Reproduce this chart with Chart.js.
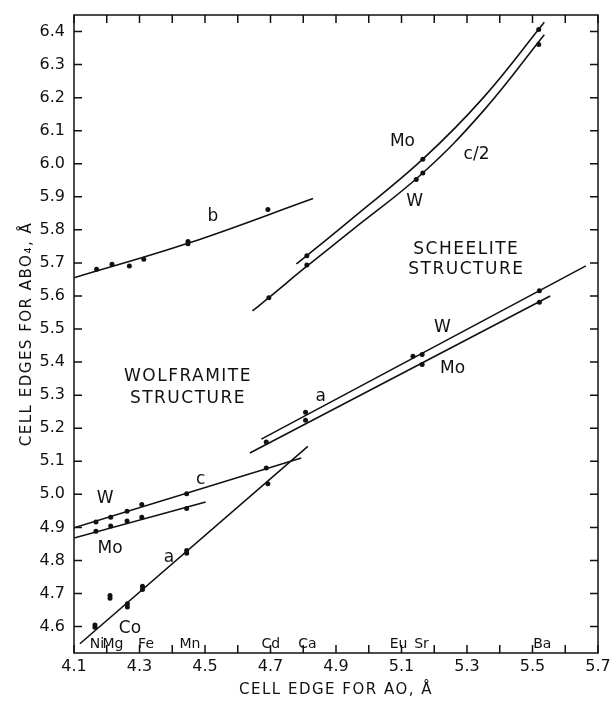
<!DOCTYPE html>
<html>
<head>
<meta charset="utf-8">
<script src="https://cdn.jsdelivr.net/npm/chart.js@4.4.0/dist/chart.umd.min.js"></script>
<style>
  html, body { margin: 0; padding: 0; background: #fff; }
</style>
</head>
<body>
<canvas id="chart" width="611" height="707"></canvas>
<script>
// tick values
const xTicks = [4.1, 4.2, 4.3, 4.4, 4.5, 4.6, 4.7, 4.8, 4.9, 5.0, 5.1, 5.2, 5.3, 5.4, 5.5, 5.6, 5.7];
const yTicks = [4.6, 4.7, 4.8, 4.9, 5.0, 5.1, 5.2, 5.3, 5.4, 5.5, 5.6, 5.7, 5.8, 5.9, 6.0, 6.1, 6.2, 6.3, 6.4];

// measured points [AO edge, ABO4 edge]
const wolfB   = [[4.169, 5.681], [4.216, 5.696], [4.269, 5.691], [4.313, 5.711], [4.448, 5.765], [4.448, 5.758], [4.692, 5.862]];
const wolfCW  = [[4.167, 4.916], [4.212, 4.931], [4.262, 4.949], [4.307, 4.969], [4.444, 5.002], [4.687, 5.080]];
const wolfCMo = [[4.167, 4.888], [4.212, 4.904], [4.262, 4.919], [4.307, 4.931], [4.444, 4.957]];
const wolfA   = [[4.164, 4.598], [4.164, 4.605], [4.210, 4.694], [4.210, 4.686], [4.263, 4.669], [4.263, 4.659],
                 [4.309, 4.722], [4.309, 4.712], [4.444, 4.830], [4.444, 4.822], [4.692, 5.032]];
const schAW   = [[4.807, 5.248], [5.135, 5.418], [5.163, 5.423], [5.521, 5.616]];
const schAMo  = [[4.687, 5.158], [4.807, 5.224], [5.163, 5.393], [5.521, 5.581]];
const schCMo  = [[4.811, 5.722], [5.165, 6.014], [5.519, 6.406]];
const schCW   = [[4.695, 5.595], [4.811, 5.694], [5.145, 5.952], [5.165, 5.972], [5.519, 6.361]];

// fitted curves
const fitB    = [[4.10, 5.655], [4.45, 5.760], [4.83, 5.895]];
const fitCW   = [[4.10, 4.899], [4.794, 5.110]];
const fitCMo  = [[4.10, 4.868], [4.502, 4.977]];
const fitA    = [[4.118, 4.548], [4.814, 5.145]];
const fitSAW  = [[4.672, 5.167], [5.663, 5.691]];
const fitSAMo = [[4.637, 5.125], [5.554, 5.600]];
const fitSCMo = [[4.779, 5.697], [4.811, 5.722], [4.95, 5.835], [5.165, 6.014], [5.35, 6.200], [5.536, 6.428]];
const fitSCW  = [[4.645, 5.555], [4.695, 5.595], [4.811, 5.690], [4.95, 5.800], [5.165, 5.972], [5.35, 6.160], [5.536, 6.390]];

// text in the plot
const notes = [
  ["b", 4.524, 5.839], ["Mo", 5.103, 6.067], ["c/2", 5.329, 6.027], ["W", 5.140, 5.885],
  ["W", 5.225, 5.503], ["Mo", 5.256, 5.379], ["a", 4.853, 5.297],
  ["W", 4.195, 4.988], ["Mo", 4.210, 4.836], ["a", 4.390, 4.809], ["c", 4.487, 5.045], ["Co", 4.271, 4.594]
];
const structures = [
  ["SCHEELITE", 5.298, 5.739], ["STRUCTURE", 5.298, 5.679],
  ["WOLFRAMITE", 4.448, 5.355], ["STRUCTURE", 4.448, 5.291]
];
const elements = [["Ni", 4.170], ["Mg", 4.219], ["Fe", 4.320], ["Mn", 4.454], ["Cd", 4.701],
                  ["Ca", 4.813], ["Eu", 5.091], ["Sr", 5.161], ["Ba", 5.530]];

const FONT = "'DejaVu Sans', sans-serif";
const toXY = arr => arr.map(p => ({x: p[0], y: p[1]}));

function dots(arr) {
  return { type: 'scatter', data: toXY(arr), pointRadius: 2.5, pointBackgroundColor: '#111',
           pointBorderWidth: 0, showLine: false };
}
function fit(arr, curved) {
  return { type: 'line', data: toXY(arr), borderColor: '#111', borderWidth: 1.6, pointRadius: 0,
           fill: false, tension: curved ? 0.4 : 0 };
}

const decor = {
  id: 'decor',
  afterDraw(chart) {
    const {ctx, chartArea: a, scales: {x, y}} = chart;
    ctx.save();
    ctx.strokeStyle = '#111';
    ctx.lineWidth = 1.5;
    ctx.strokeRect(a.left, a.top, a.right - a.left, a.bottom - a.top);
    ctx.beginPath();
    xTicks.forEach(v => {
      const px = x.getPixelForValue(v);
      ctx.moveTo(px, a.bottom); ctx.lineTo(px, a.bottom - 8);
      ctx.moveTo(px, a.top); ctx.lineTo(px, a.top + 8);
    });
    yTicks.forEach(v => {
      const py = y.getPixelForValue(v);
      ctx.moveTo(a.left, py); ctx.lineTo(a.left + 8, py);
      ctx.moveTo(a.right, py); ctx.lineTo(a.right - 8, py);
    });
    ctx.stroke();

    ctx.fillStyle = '#111';
    ctx.textAlign = 'center';
    ctx.textBaseline = 'middle';
    ctx.font = '17px ' + FONT;
    notes.forEach(n => ctx.fillText(n[0], x.getPixelForValue(n[1]), y.getPixelForValue(n[2])));
    ctx.letterSpacing = '1.5px';
    ctx.font = '17px ' + FONT;
    structures.forEach(n => ctx.fillText(n[0], x.getPixelForValue(n[1]), y.getPixelForValue(n[2])));
    ctx.letterSpacing = '0px';
    ctx.font = '14px ' + FONT;
    elements.forEach(n => ctx.fillText(n[0], x.getPixelForValue(n[1]), a.bottom - 9));

    // axis titles
    ctx.letterSpacing = '1.5px';
    ctx.font = '15px ' + FONT;
    ctx.fillText('CELL EDGE FOR AO, Å', (a.left + a.right) / 2, 690);
    ctx.translate(27, (a.top + a.bottom) / 2);
    ctx.rotate(-Math.PI / 2);
    ctx.fillText('CELL EDGES FOR ABO₄, Å', 0, 0);
    ctx.restore();
  }
};

new Chart(document.getElementById('chart'), {
  data: {
    datasets: [
      fit(fitB, true), fit(fitCW), fit(fitCMo), fit(fitA), fit(fitSAW), fit(fitSAMo),
      fit(fitSCMo, true), fit(fitSCW, true),
      dots(wolfB), dots(wolfCW), dots(wolfCMo), dots(wolfA),
      dots(schAW), dots(schAMo), dots(schCMo), dots(schCW)
    ]
  },
  options: {
    responsive: false,
    animation: false,
    layout: { padding: { top: 15, right: 13, left: 0, bottom: 0 } },
    plugins: { legend: { display: false }, tooltip: { enabled: false } },
    scales: {
      x: {
        type: 'linear', min: 4.1, max: 5.7,
        afterBuildTicks: s => { s.ticks = xTicks.map(v => ({value: v})); },
        afterFit: s => { s.height = 54; s.paddingLeft = 0; s.paddingRight = 0; },
        grid: { display: false, drawTicks: false }, border: { display: false },
        ticks: { autoSkip: false, maxRotation: 0, padding: 4, color: '#111',
                 font: { family: FONT, size: 16 },
                 callback: (v, i) => i % 2 === 0 ? v.toFixed(1) : '' }
      },
      y: {
        type: 'linear', min: 4.52, max: 6.45,
        afterBuildTicks: s => { s.ticks = yTicks.map(v => ({value: v})); },
        afterFit: s => { s.width = 74; s.paddingTop = 0; s.paddingBottom = 0; },
        grid: { display: false, drawTicks: false }, border: { display: false },
        ticks: { autoSkip: false, padding: 9, color: '#111',
                 font: { family: FONT, size: 16 },
                 callback: v => v.toFixed(1) }
      }
    }
  },
  plugins: [decor]
});
</script>
</body>
</html>
